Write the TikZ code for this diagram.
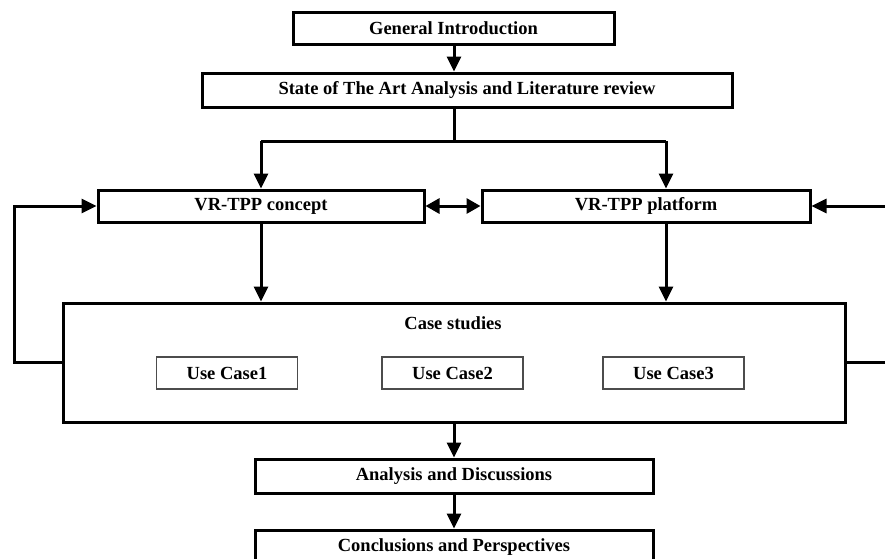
\documentclass[tikz,border=0pt]{standalone}
\usepackage{fontspec}
\setmainfont{Liberation Serif}
\usetikzlibrary{arrows.meta}
\begin{document}
\begin{tikzpicture}[x=1pt,y=-1pt,
  box/.style={draw=black, line width=3pt, fill=white, inner sep=0pt,
    font=\bfseries\fontsize{18.5}{22}\selectfont},
  ucbox/.style={draw=black!70, line width=1.2pt, fill=white, inner sep=0pt,
    minimum width=141pt, minimum height=32pt,
    font=\bfseries\fontsize{18.5}{22}\selectfont},
  txt/.style={inner sep=0pt, font=\bfseries\fontsize{18.5}{22}\selectfont},
  conn/.style={line width=3pt, draw=black},
  arr/.style={conn, -{Triangle[length=15pt,width=14pt]}},
  darr/.style={conn, {Triangle[length=14pt,width=15pt]}-{Triangle[length=14pt,width=15pt]}}]
\useasboundingbox (0,0) rectangle (885,558);
\clip (0,0) rectangle (885,558);
\fill[white] (0,0) rectangle (885,558);

\node[box, minimum width=321pt, minimum height=32pt] (gi) at (453.5,28) {General Introduction};
\node[box, minimum width=530pt, minimum height=34pt] (state) at (467,90) {State of The Art Analysis and Literature review};
\node[box, minimum width=326pt, minimum height=32pt] (concept) at (261,206) {VR-TPP concept};
\node[box, minimum width=328pt, minimum height=32pt] (platform) at (646,206) {VR-TPP platform};
\node[box, minimum width=782pt, minimum height=119pt] (case) at (454,362.5) {};
\node[txt] (casetitle) at (453,323) {Case studies};
\node[ucbox] (uc1) at (227,373) {Use Case1};
\node[ucbox] (uc2) at (452.5,373) {Use Case2};
\node[ucbox] (uc3) at (673.5,373) {Use Case3};
\node[box, minimum width=398pt, minimum height=34pt] (analysis) at (454,476) {Analysis and Discussions};
\node[box, minimum width=398pt, minimum height=34pt] (concl) at (454,547) {Conclusions and Perspectives};

\coordinate (split) at (454,141);
\coordinate (bl) at (261,141);
\coordinate (br) at (666,141);
\coordinate (lx) at (14,206);
\coordinate (rx) at (895,206);

\draw[arr] (gi.south -| split) -- (split |- state.north);
\draw[conn] (state.south -| split) -- (split);
\draw[conn] (bl) -- (br);
\draw[arr] (bl) -- (bl |- concept.north);
\draw[arr] (br) -- (br |- platform.north);
\draw[darr] (concept.east) -- (platform.west);
\draw[arr] (concept.south) -- (concept.south |- case.north);
\draw[arr] (br |- platform.south) -- (br |- case.north);
\draw[arr] (case.west) -- (case.west -| lx) -- (lx) -- (concept.west);
\draw[arr] (case.east) -- (case.east -| rx) -- (rx) -- (platform.east);
\draw[arr] (case.south -| split) -- (split |- analysis.north);
\draw[arr] (analysis.south) -- (concl.north);
\end{tikzpicture}
\end{document}
